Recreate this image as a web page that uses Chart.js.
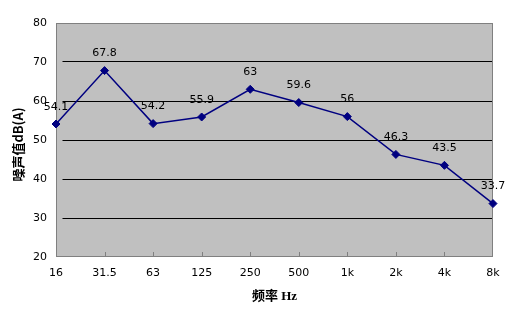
<!DOCTYPE html>
<html>
<head>
<meta charset="utf-8">
<script src="https://cdn.jsdelivr.net/npm/chart.js@4.4.0/dist/chart.umd.min.js"></script>
<style>
  html, body { margin: 0; padding: 0; background: #fff; }
  #wrap { width: 514px; height: 311px; }
</style>
</head>
<body>
<div id="wrap"><canvas id="noiseChart"></canvas></div>
<script>
const freq_labels = ['16', '31.5', '63', '125', '250', '500', '1k', '2k', '4k', '8k'];
const noise_values = [54.1, 67.8, 54.2, 55.9, 63, 59.6, 56, 46.3, 43.5, 33.7];
const y_min = 20;
const y_max = 80;
const y_step = 10;

const ctxNoise = document.getElementById('noiseChart');

// grey plot area, grey frame, little tick marks along the bottom, value labels
const plotDeco = {
    id: 'plotDeco',
    beforeDraw(chart) {
        const a = chart.chartArea;
        const c = chart.ctx;
        c.save();
        c.fillStyle = '#c0c0c0';
        c.fillRect(a.left, a.top, a.right - a.left, a.bottom - a.top);
        c.restore();
    },
    beforeDatasetsDraw(chart) {
        const a = chart.chartArea;
        const c = chart.ctx;
        const xs = chart.scales.x;
        c.save();
        // gridlines start a few px right of the axis
        c.fillStyle = '#c0c0c0';
        c.fillRect(a.left + 1, a.top + 1, 5.5, a.bottom - a.top - 2);
        c.strokeStyle = '#808080';
        c.lineWidth = 1;
        c.strokeRect(Math.round(a.left) + 0.5, Math.round(a.top) + 0.5,
            Math.round(a.right - a.left) - 1, Math.round(a.bottom - a.top) - 1);
        c.beginPath();
        for (let i = 1; i < freq_labels.length - 1; i++) {
            const px = Math.round(xs.getPixelForValue(i)) + 0.5;
            c.moveTo(px, a.bottom);
            c.lineTo(px, a.bottom - 5);
        }
        c.stroke();
        c.restore();
    },
    afterDatasetsDraw(chart) {
        const c = chart.ctx;
        const meta = chart.getDatasetMeta(0);
        c.save();
        c.font = '11px "DejaVu Sans", sans-serif';
        c.fillStyle = '#000';
        c.textAlign = 'center';
        c.textBaseline = 'middle';
        meta.data.forEach((pt, i) => {
            c.fillText(String(noise_values[i]), pt.x, pt.y - 17);
        });
        c.restore();
    }
};

const noiseChart = new Chart(ctxNoise, {
    type: 'line',
    data: {
        labels: freq_labels,
        datasets: [{
            label: '噪声值',
            data: noise_values,
            borderColor: '#000080',
            backgroundColor: '#000080',
            borderWidth: 1.5,
            tension: 0,
            pointStyle: 'rectRot',
            pointRadius: 4,
            pointBorderWidth: 1,
            pointHoverRadius: 4
        }]
    },
    options: {
        responsive: true,
        maintainAspectRatio: false,
        animation: false,
        events: [],
        layout: {
            padding: { top: 23, right: 21, bottom: 0, left: 0 }
        },
        plugins: {
            legend: { display: false },
            tooltip: { enabled: false }
        },
        scales: {
            x: {
                offset: false,
                grid: { display: false, drawTicks: false },
                border: { display: false },
                ticks: {
                    color: '#000',
                    padding: 10,
                    autoSkip: false,
                    maxRotation: 0,
                    font: { family: '"DejaVu Sans", sans-serif', size: 11 }
                },
                title: {
                    display: true,
                    text: '频率 Hz',
                    color: '#000',
                    padding: { top: 0, bottom: 7 },
                    font: { family: '"Liberation Serif", "Noto Sans CJK SC", serif', size: 13, weight: 'bold' }
                },
                afterFit(scale) { scale.height = 54; }
            },
            y: {
                min: y_min,
                max: y_max,
                grid: {
                    drawTicks: false,
                    lineWidth: 1,
                    color: (c) => (c.tick && (c.tick.value === y_min || c.tick.value === y_max)) ? 'rgba(0,0,0,0)' : '#000'
                },
                border: { display: false },
                ticks: {
                    stepSize: y_step,
                    color: '#000',
                    padding: 9,
                    font: { family: '"DejaVu Sans", sans-serif', size: 11 }
                },
                title: {
                    display: true,
                    text: '噪声值dB(A)   ',
                    color: '#000',
                    padding: { top: 10, bottom: 0 },
                    font: { family: '"Noto Sans CJK SC", sans-serif', size: 13, weight: 'bold' }
                },
                afterFit(scale) { scale.width = 56; }
            }
        }
    },
    plugins: [plotDeco]
});
</script>
</body>
</html>
